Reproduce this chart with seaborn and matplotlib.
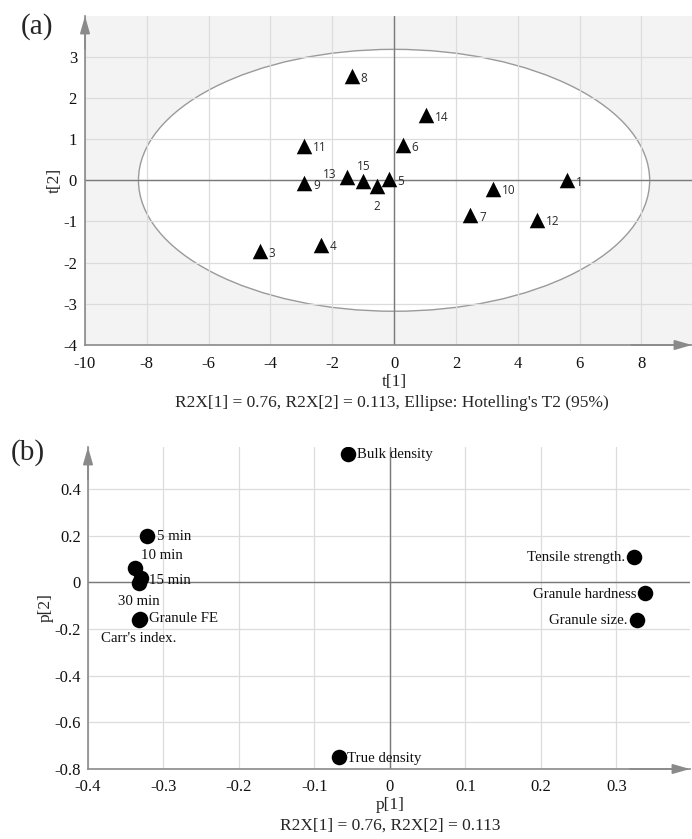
import numpy as np
import pandas as pd
import matplotlib
matplotlib.use("Agg")
import matplotlib.pyplot as plt
from matplotlib.patches import Ellipse
from matplotlib.ticker import MultipleLocator, FuncFormatter
import seaborn as sns

# ---------------- data ----------------
sample_ids = ["1", "2", "3", "4", "5", "6", "7", "8", "9", "10",
              "11", "12", "13", "14", "15"]
t1 = [5.59, -0.56, -4.34, -2.36, -0.18, 0.28, 2.46, -1.37, -2.91, 3.21,
      -2.91, 4.62, -1.53, 1.03, -1.01]
t2 = [0.00, -0.15, -1.72, -1.56, 0.02, 0.85, -0.85, 2.53, -0.07, -0.20,
      0.84, -0.96, 0.09, 1.58, -0.02]

variables = ["Bulk density", "Tensile strength.", "Granule hardness",
             "Granule size.", "True density", "5 min", "10 min", "15 min",
             "30 min", "Granule FE", "Carr's index."]
p1 = [-0.056, 0.323, 0.338, 0.327, -0.067, -0.322, -0.338, -0.330,
      -0.333, -0.331, -0.333]
p2 = [0.549, 0.110, -0.047, -0.162, -0.750, 0.200, 0.060, 0.017,
      -0.005, -0.157, -0.160]

ellipse_semi_axes = [8.27, 3.18]
r2x = [0.76, 0.113]

# ---------------- style ----------------
sns.set_style("white")
plt.rcParams["font.family"] = ["Liberation Serif", "DejaVu Serif"]
plt.rcParams["axes.unicode_minus"] = False

AXIS_COL = "#8a8a8a"
GRID_COL = "#dcdcdc"
ZERO_COL = "#7a7a7a"
PX = 0.72  # px -> pt at 100 dpi
TICK_FS = 12
LABEL_FS = 12.5
CAP_FS = 12.5

fig = plt.figure(figsize=(6.92, 8.39), dpi=100)
W, H = 692, 839


def axes_from_px(left, top, right, bottom):
    return fig.add_axes([left / W, 1 - bottom / H, (right - left) / W, (bottom - top) / H])


def style_axes(ax, xmaj, xmin, ymaj, ymin, xpad, ypad, xminor_dir):
    ax.xaxis.set_major_locator(MultipleLocator(xmaj))
    ax.xaxis.set_minor_locator(MultipleLocator(xmin))
    ax.yaxis.set_major_locator(MultipleLocator(ymaj))
    ax.yaxis.set_minor_locator(MultipleLocator(ymin))
    fmt = FuncFormatter(lambda v, p: f"{round(v, 6):g}")
    ax.xaxis.set_major_formatter(fmt)
    ax.yaxis.set_major_formatter(fmt)
    ax.grid(True, which="major", color=GRID_COL, lw=0.9)
    ax.set_axisbelow(True)
    for s in ["top", "right"]:
        ax.spines[s].set_visible(False)
    for s in ["left", "bottom"]:
        ax.spines[s].set_color(AXIS_COL)
        ax.spines[s].set_linewidth(1.2)
    ax.tick_params(which="major", direction="out", length=4.3, width=1,
                   color=AXIS_COL, labelsize=TICK_FS, labelcolor="#111111")
    ax.tick_params(axis="x", which="major", pad=xpad)
    ax.tick_params(axis="y", which="major", pad=ypad)
    ax.tick_params(which="minor", direction="out", length=2.5, width=1,
                   color=AXIS_COL)
    ax.tick_params(axis="x", which="minor", direction=xminor_dir)
    ax.axhline(0, color=ZERO_COL, lw=1.0, zorder=1)
    ax.axvline(0, color=ZERO_COL, lw=1.0, zorder=1)
    arrow = dict(arrowstyle="-|>,head_length=1.05,head_width=0.3",
                 color=AXIS_COL, lw=1.2, mutation_scale=10, shrinkA=0, shrinkB=0)
    ax.annotate("", xy=(0, 1), xytext=(0, 0.9), xycoords="axes fraction",
                arrowprops=arrow, annotation_clip=False)
    ax.annotate("", xy=(1, 0), xytext=(0.9, 0), xycoords="axes fraction",
                arrowprops=arrow, annotation_clip=False)


# ---------------- (a) score plot ----------------
ax1 = axes_from_px(85, 16, 692, 345)
ax1.set_facecolor("#f3f3f3")
ax1.set_xlim(-10, 9.64)
ax1.set_ylim(-4, 3.99)
style_axes(ax1, 2, 1, 1, 0.5, xpad=3.5, ypad=1.5, xminor_dir="in")

ell = Ellipse((0, 0), 2 * ellipse_semi_axes[0], 2 * ellipse_semi_axes[1],
              facecolor="white", edgecolor="#9a9a9a", lw=1.0, zorder=0.3)
ax1.add_patch(ell)

scores = pd.DataFrame({"id": sample_ids, "t1": t1, "t2": t2})
sns.scatterplot(data=scores, x="t1", y="t2", marker="^", s=125,
                color="black", edgecolor="black", linewidth=0, ax=ax1,
                zorder=3, legend=False)

special_a = {"15": (1, 15, "center"), "2": (0, -20, "center"),
             "13": (-10, 2, "right")}
for sid, x, y in zip(sample_ids, t1, t2):
    dx, dy, ha = special_a.get(sid, (9, -2, "left"))
    ax1.annotate(sid, (x, y), xytext=(dx * PX, dy * PX), textcoords="offset points",
                 ha=ha, va="center", fontsize=8.5, color="#2a2a2a",
                 family=["Open Sans", "DejaVu Sans"], zorder=4)

ax1.set_xlabel("t[1]", fontsize=LABEL_FS)
ax1.set_ylabel("t[2]", fontsize=LABEL_FS)
ax1.xaxis.set_label_coords((394 - 85) / 607, (345 - 374) / 329)
ax1.yaxis.set_label_coords((63 - 85) / 607, 0.5)
fig.text(392 / W, 1 - 403 / H,
         f"R2X[1] = {r2x[0]}, R2X[2] = {r2x[1]}, Ellipse: Hotelling's T2 (95%)",
         ha="center", va="center", fontsize=CAP_FS)
fig.text(21 / W, 1 - 27 / H, "(a)", ha="left", va="center", fontsize=21)

# ---------------- (b) loading plot ----------------
ax2 = axes_from_px(88, 447, 690, 769)
ax2.set_facecolor("white")
ax2.set_xlim(-0.4, 0.3976)
ax2.set_ylim(-0.8, 0.58)
style_axes(ax2, 0.1, 0.05, 0.2, 0.1, xpad=3.0, ypad=0.8, xminor_dir="out")

loads = pd.DataFrame({"var": variables, "p1": p1, "p2": p2})
sns.scatterplot(data=loads, x="p1", y="p2", marker="o", s=125,
                color="black", edgecolor="black", linewidth=0, ax=ax2,
                zorder=3, legend=False)

placement_b = {
    "Bulk density": (9, 0, "left"),
    "Tensile strength.": (-9, -1, "right"),
    "Granule hardness": (-9, -1, "right"),
    "Granule size.": (-9, 0, "right"),
    "True density": (8, -1, "left"),
    "5 min": (10, -1, "left"),
    "10 min": (6, 13, "left"),
    "15 min": (8, -2, "left"),
    "30 min": (0, -18, "center"),
    "Granule FE": (9, 0, "left"),
    "Carr's index.": (0, -19, "center"),
}
for v, x, y in zip(variables, p1, p2):
    dx, dy, ha = placement_b[v]
    ax2.annotate(v, (x, y), xytext=(dx * PX, dy * PX), textcoords="offset points",
                 ha=ha, va="center", fontsize=10.7, color="#111111", zorder=4)

ax2.set_xlabel("p[1]", fontsize=LABEL_FS)
ax2.set_ylabel("p[2]", fontsize=LABEL_FS)
ax2.xaxis.set_label_coords((390 - 88) / 602, (769 - 797) / 322)
ax2.yaxis.set_label_coords((54 - 88) / 602, 0.5)
fig.text(390 / W, 1 - 826 / H, f"R2X[1] = {r2x[0]}, R2X[2] = {r2x[1]}",
         ha="center", va="center", fontsize=CAP_FS)
fig.text(11 / W, 1 - 453 / H, "(b)", ha="left", va="center", fontsize=21)

fig.savefig("out.png", dpi=100)
